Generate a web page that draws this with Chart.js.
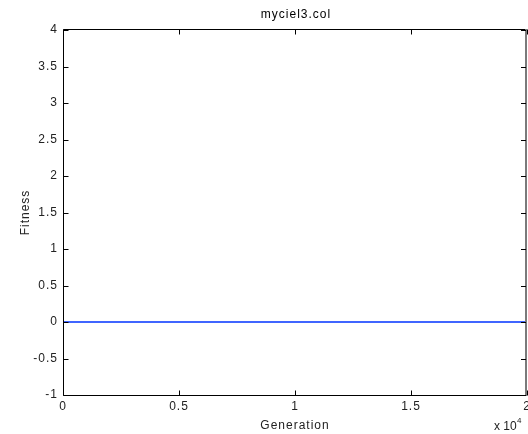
<!DOCTYPE html>
<html>
<head>
<meta charset="utf-8">
<script src="https://cdn.jsdelivr.net/npm/chart.js@4"></script>
<style>
  html, body { margin: 0; padding: 0; background: #fff; }
  canvas { display: block; }
</style>
</head>
<body>
<canvas id="c" width="528" height="434"></canvas>
<script>
// ---- data ----
const titleText = "myciel3.col";
const xLabel = "Generation";
const yLabel = "Fitness";
const generations = [0, 20000];
const fitness = [0, 0];
const xTicks = [0, 0.5, 1, 1.5, 2];          // in units of 10^4
const yTicks = [-1, -0.5, 0, 0.5, 1, 1.5, 2, 2.5, 3, 3.5, 4];
const xExponent = 4;

const FONT = "'Liberation Sans', Arial, Helvetica, sans-serif";
const SPACING = '1px';

const matlabPlugin = {
  id: 'matlab',
  beforeLayout(chart) { chart.ctx.letterSpacing = SPACING; },
  beforeDraw(chart) { chart.ctx.letterSpacing = SPACING; },
  afterDraw(chart) {
    const ctx = chart.ctx;
    const a = chart.chartArea;
    const xs = chart.scales.x, ys = chart.scales.y;
    const L = Math.round(a.left) + 0.5;
    const B = Math.round(a.bottom) + 0.5;
    const T = Math.round(a.top) - 0.5;
    const R = Math.round(a.right) - 1;
    ctx.save();
    ctx.letterSpacing = SPACING;
    // box
    ctx.strokeStyle = '#000';
    ctx.lineWidth = 1;
    ctx.beginPath();
    ctx.moveTo(L, T); ctx.lineTo(R, T);
    ctx.moveTo(L, T); ctx.lineTo(L, B);
    ctx.moveTo(L, B); ctx.lineTo(R, B);
    ctx.stroke();
    ctx.strokeStyle = '#7a7a7a';
    ctx.lineWidth = 2;
    ctx.beginPath();
    ctx.moveTo(R, T - 0.5); ctx.lineTo(R, B + 0.5);
    ctx.stroke();
    // inward ticks
    ctx.strokeStyle = '#000';
    ctx.lineWidth = 1;
    ctx.beginPath();
    const tl = 5;
    xTicks.forEach(v => {
      const px = Math.round(xs.getPixelForValue(v * Math.pow(10, xExponent))) + 0.5;
      ctx.moveTo(px, B); ctx.lineTo(px, B - tl);
      ctx.moveTo(px, T); ctx.lineTo(px, T + tl);
    });
    yTicks.forEach(v => {
      const py = Math.round(ys.getPixelForValue(v)) + 0.5;
      ctx.moveTo(L, py); ctx.lineTo(L + tl, py);
      ctx.moveTo(R, py); ctx.lineTo(R - tl, py);
    });
    ctx.stroke();
    // title
    ctx.fillStyle = '#000';
    ctx.font = '12px ' + FONT;
    ctx.textAlign = 'center';
    ctx.textBaseline = 'middle';
    ctx.fillText(titleText, (a.left + a.right) / 2 + 1, 15);
    // exponent
    ctx.fillStyle = '#222';
    ctx.textAlign = 'left';
    ctx.letterSpacing = '0px';
    ctx.font = '12px ' + FONT;
    ctx.fillText('x 10', 494, 427);
    ctx.font = '8px ' + FONT;
    ctx.fillText(String(xExponent), 517, 421);
    ctx.restore();
  }
};

new Chart(document.getElementById('c'), {
  type: 'line',
  data: {
    datasets: [{
      data: generations.map((g, i) => ({ x: g, y: fitness[i] })),
      borderColor: 'rgb(0,50,255)',
      borderWidth: 1.3,
      pointRadius: 0,
      tension: 0,
      fill: false
    }]
  },
  options: {
    responsive: false,
    animation: false,
    events: [],
    layout: { padding: { top: 30, right: 1, left: 0, bottom: 0 } },
    plugins: { legend: { display: false }, title: { display: false }, tooltip: { enabled: false } },
    scales: {
      x: {
        type: 'linear',
        min: 0,
        max: 20000,
        afterBuildTicks(s) { s.ticks = xTicks.map(v => ({ value: v * Math.pow(10, xExponent) })); },
        afterFit(s) { s.height = 39; s.paddingLeft = 0; s.paddingRight = 0; },
        grid: { display: false, drawTicks: false },
        border: { display: false },
        ticks: {
          padding: 4,
          maxRotation: 0,
          autoSkip: false,
          color: '#222',
          font: { family: FONT, size: 12 },
          callback: v => String(v / Math.pow(10, xExponent))
        },
        title: {
          display: true,
          text: xLabel,
          color: '#222',
          font: { family: FONT, size: 12 },
          padding: { top: 0, bottom: 1 }
        }
      },
      y: {
        type: 'linear',
        min: -1,
        max: 4,
        afterBuildTicks(s) { s.ticks = yTicks.map(v => ({ value: v })); },
        afterFit(s) { s.width = 63; s.paddingTop = 0; s.paddingBottom = 0; },
        grid: { display: false, drawTicks: false },
        border: { display: false },
        ticks: {
          padding: 5,
          autoSkip: false,
          color: '#222',
          font: { family: FONT, size: 12 },
          callback: v => String(v)
        },
        title: {
          display: true,
          text: yLabel,
          color: '#222',
          font: { family: FONT, size: 12 },
          padding: { top: 18, bottom: 0 }
        }
      }
    }
  },
  plugins: [matlabPlugin]
});
</script>
</body>
</html>
